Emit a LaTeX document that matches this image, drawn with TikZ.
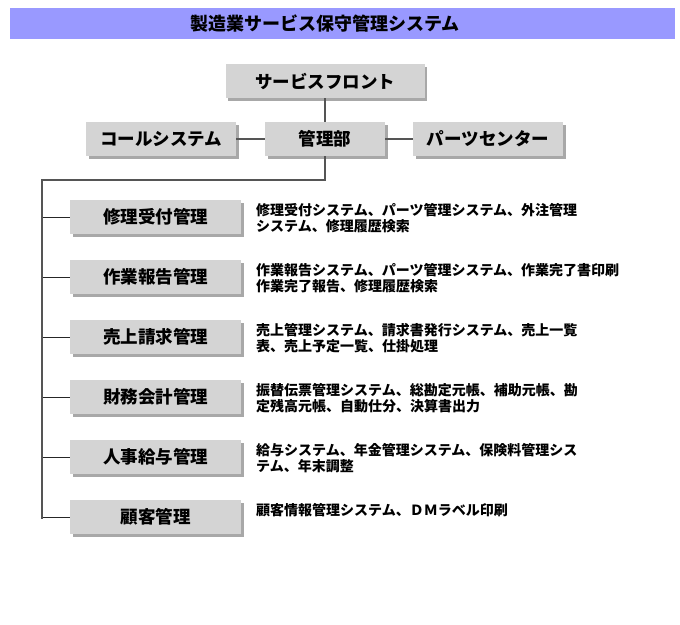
\documentclass[tikz,border=0pt]{standalone}
\usepackage{fontspec}
\setmainfont{Noto Sans CJK JP}
\usetikzlibrary{positioning,calc,shadows}
\definecolor{smBar}{RGB}{153,153,255}
\definecolor{smBox}{RGB}{212,212,212}
\definecolor{smLine}{RGB}{85,85,85}
\definecolor{smShade}{RGB}{110,110,110}
\tikzset{
    base/.style={font=\bfseries, align=center, text=black},
    dept/.style={base, rectangle, fill=smBox, inner sep=0pt,
                 minimum height=34pt, font=\fontsize{17.5}{20}\selectfont\bfseries,
                 drop shadow={opacity=0.6, fill=smShade, shadow xshift=2.5pt, shadow yshift=-2.5pt}},
    link/.style={draw=smLine, line width=1.1pt},
    tick/.style={draw=black!85, line width=0.9pt},
    desc/.style={base, align=left, anchor=north west, inner sep=0pt,
                 font=\fontsize{14}{16}\selectfont\bfseries}
}

\begin{document}
\begin{tikzpicture}[x=1pt,y=-1pt]
  \useasboundingbox (0,0) rectangle (680,624);

  % Title bar
  \fill[smBar] (10,8) rectangle (675,39);
  \node[base, font=\fontsize{18}{20}\selectfont\bfseries] (title) at (325,23.5) {製造業サービス保守管理システム};

  % Top structure
  \node[dept, minimum width=199pt] (front) at (325,81) {サービスフロント};
  \node[dept, minimum width=120pt] (kanri) at (325,139) {管理部};
  \node[dept, minimum width=150pt] (call) at (161,139) {コールシステム};
  \node[dept, minimum width=150pt] (parts) at (488,139) {パーツセンター};

  \draw[link] (front) -- (kanri);
  \draw[link] (call) -- (kanri);
  \draw[link] (kanri) -- (parts);

  % Branch list
  \coordinate (corner) at (42,180);
  \foreach \i/\name/\lbl in {0/c1/修理受付管理, 1/c2/作業報告管理, 2/c3/売上請求管理,
                             3/c4/財務会計管理, 4/c5/人事給与管理, 5/c6/顧客管理} {
    \node[dept, minimum width=171pt] (\name) at (155.5,{217+60*\i}) {\lbl};
    \draw[tick] (corner |- \name.west) -- (\name.west);
  }
  \draw[link] (kanri.south) |- (corner) -- ($(corner |- c6.west)+(0,1.5)$);

  \node[desc] (d1) at (256,203.5) {修理受付システム、パーツ管理システム、外注管理\\システム、修理履歴検索};
  \node[desc] (d2) at (256,263.5) {作業報告システム、パーツ管理システム、作業完了書印刷\\作業完了報告、修理履歴検索};
  \node[desc] (d3) at (256,323.5) {売上管理システム、請求書発行システム、売上一覧\\表、売上予定一覧、仕掛処理};
  \node[desc] (d4) at (256,383.5) {振替伝票管理システム、総勘定元帳、補助元帳、勘\\定残高元帳、自動仕分、決算書出力};
  \node[desc] (d5) at (256,443.5) {給与システム、年金管理システム、保険料管理シス\\テム、年末調整};
  \node[desc] (d6) at (256,503.5) {顧客情報管理システム、ＤＭラベル印刷};
\end{tikzpicture}
\end{document}
